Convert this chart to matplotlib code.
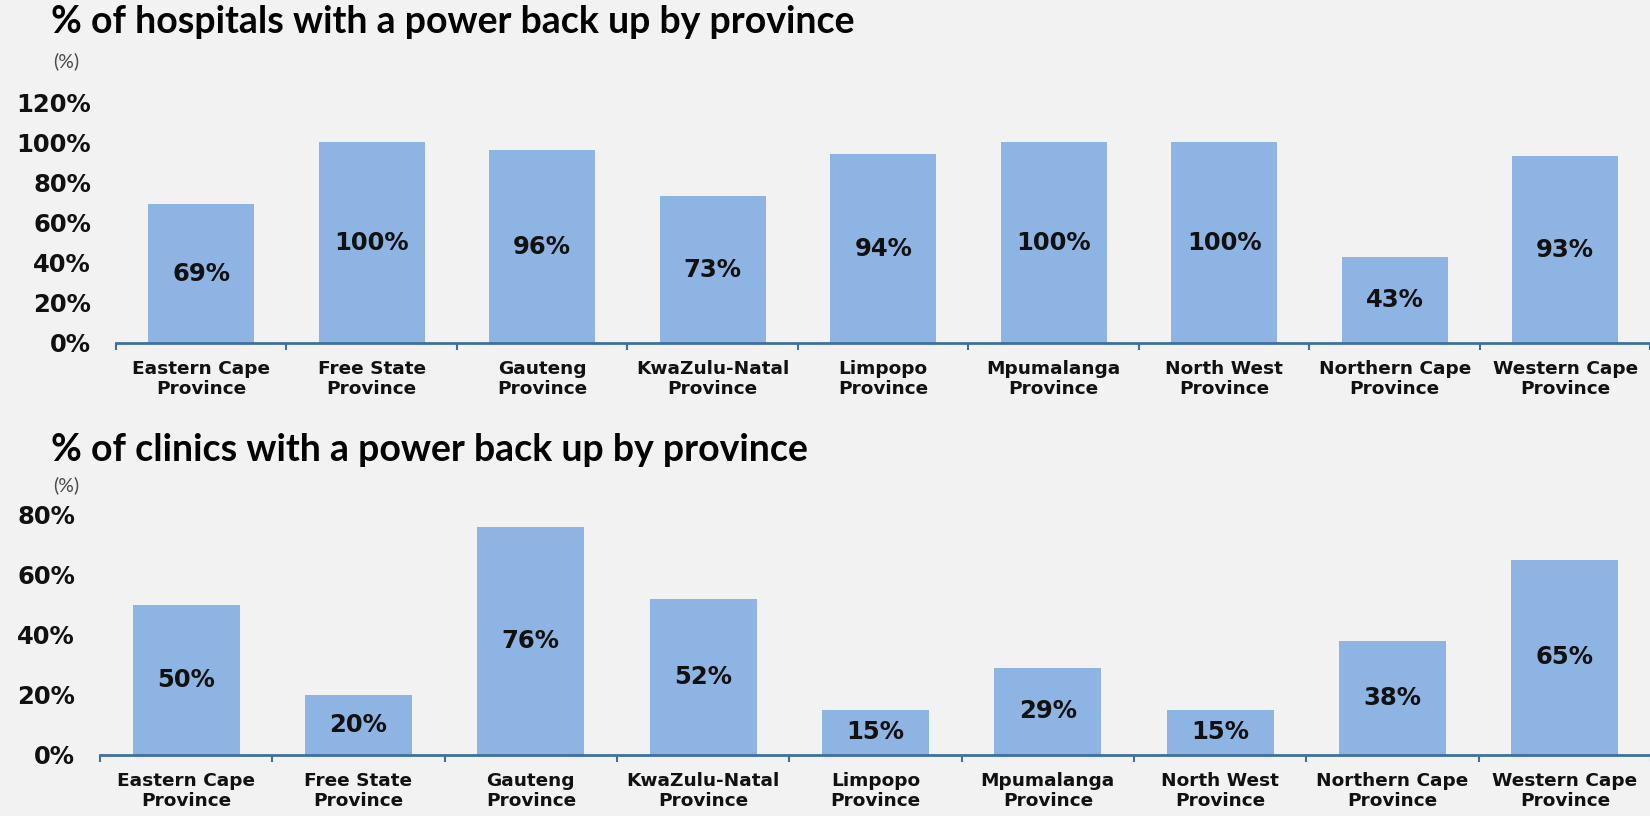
import numpy as np
import matplotlib.pyplot as plt
from matplotlib.ticker import FixedLocator

provinces = ['Eastern Cape\nProvince', 'Free State\nProvince', 'Gauteng\nProvince',
             'KwaZulu-Natal\nProvince', 'Limpopo\nProvince', 'Mpumalanga\nProvince',
             'North West\nProvince', 'Northern Cape\nProvince', 'Western Cape\nProvince']
hospitals = [69, 100, 96, 73, 94, 100, 100, 43, 93]
clinics = [50, 20, 76, 52, 15, 29, 15, 38, 65]
hosp_ticks = [0, 20, 40, 60, 80, 100, 120]
clinic_ticks = [0, 20, 40, 60, 80]

bg = '#f2f2f2'
bar_col = '#8eb4e3'
axis_col = '#3f6f9f'
title_font = 'Lato'
num_font = 'DejaVu Sans'

fig = plt.figure(figsize=(16.5, 8.16), dpi=100, facecolor=bg)

def draw(ax, vals, ticks, ymax):
    ax.set_facecolor(bg)
    x = np.arange(len(vals))
    ax.bar(x, vals, width=0.62, color=bar_col, zorder=2)
    for xi, v in zip(x, vals):
        ax.text(xi, v / 2, f'{v}%', ha='center', va='center', fontsize=17.5,
                fontweight='bold', family=num_font, color='#111111')
    ax.set_xlim(-0.5, len(vals) - 0.5)
    ax.set_ylim(0, ymax)
    ax.set_yticks(ticks)
    ax.set_yticklabels([f'{t}%' for t in ticks], fontsize=17.5, fontweight='bold',
                       family=num_font, color='#111111')
    ax.set_xticks(x)
    ax.set_xticklabels(provinces, fontsize=13.3, fontweight='bold', family=num_font,
                       linespacing=1.15, color='#111111')
    ax.xaxis.set_minor_locator(FixedLocator(np.arange(-0.5, len(vals), 1.0)))
    ax.tick_params(axis='x', which='major', length=0, pad=12)
    ax.tick_params(axis='x', which='minor', length=5, width=1.5, color=axis_col,
                   direction='out')
    ax.tick_params(axis='y', length=0, pad=18)
    for s in ['top', 'right', 'left']:
        ax.spines[s].set_visible(False)
    ax.spines['bottom'].set_color(axis_col)
    ax.spines['bottom'].set_linewidth(2)

ax1 = fig.add_axes([0.0703, 0.5797, 0.93, 0.2953])
draw(ax1, hospitals, hosp_ticks, 120)
ax2 = fig.add_axes([0.0606, 0.0748, 0.94, 0.2941])
draw(ax2, clinics, clinic_ticks, 80)

fig.text(0.031, 0.973, '% of hospitals with a power back up by province', fontsize=27,
         fontweight='bold', family=title_font, va='center', ha='left')
fig.text(0.031, 0.449, '% of clinics with a power back up by province', fontsize=27,
         fontweight='bold', family=title_font, va='center', ha='left')
fig.text(0.032, 0.925, '(%)', fontsize=14, family=title_font, color='#4a4a4a',
         va='center', ha='left')
fig.text(0.032, 0.405, '(%)', fontsize=14, family=title_font, color='#4a4a4a',
         va='center', ha='left')

fig.savefig('out.png', dpi=100, facecolor=bg)
